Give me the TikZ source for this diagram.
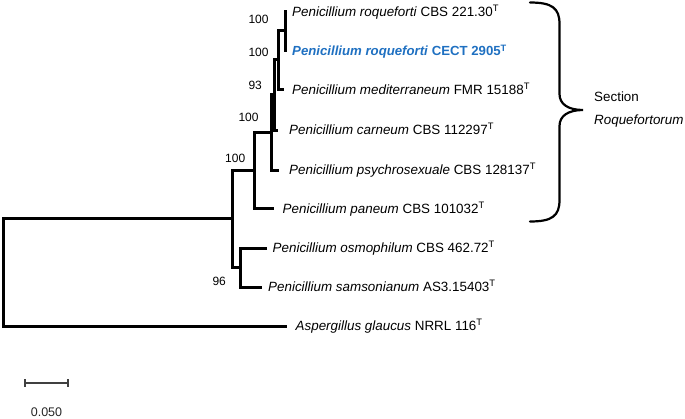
\documentclass[tikz,border=0pt]{standalone}
\usepackage{fontspec}
\setmainfont{Liberation Sans}
\definecolor{cectblue}{RGB}{31,112,193}
\begin{document}
\begin{tikzpicture}[x=1pt,y=-1pt,
  branch/.style={line width=3pt, line join=miter},
  taxon/.style={anchor=west, inner sep=0pt, text height=9.6pt, text depth=0pt, font=\fontsize{13.4}{16}\selectfont},
  boot/.style={anchor=west, inner sep=0pt, text height=8.6pt, text depth=0pt, font=\fontsize{12}{14}\selectfont},
  bracestyle/.style={line width=2.2pt, line cap=round},
  scalebar/.style={line width=1.2pt, draw=black!75},
  scalelabel/.style={inner sep=0pt, text height=9pt, text depth=0pt, text=black!85, font=\fontsize{12.5}{14}\selectfont}]
\useasboundingbox (0,0) rectangle (685,418);

% leaves (branch tips)
\coordinate (L1) at (287,11);
\coordinate (L2) at (287,50.5);
\coordinate (L3) at (283.5,89);
\coordinate (L4) at (278,130);
\coordinate (L5) at (278.5,170);
\coordinate (L6) at (273.5,208);
\coordinate (L7) at (267,248);
\coordinate (L8) at (262,287);
\coordinate (L9) at (287,326);
% internal nodes
\coordinate (A) at (285.5,30.75);
\coordinate (B) at (278,59.9);
\coordinate (C) at (274,94.9);
\coordinate (D) at (271,132.5);
\coordinate (E) at (254,170.2);
\coordinate (G) at (240.5,267.5);
\coordinate (F) at (232.5,218.9);
\coordinate (R) at (3,272.4);

% branches
\draw[branch] (L1) -| (A) |- (L2);
\draw[branch] (A) -| (B) |- (L3);
\draw[branch] (B) -| (C) |- (L4);
\draw[branch] (C) -| (D) |- (L5);
\draw[branch] (D) -| (E) |- (L6);
\draw[branch] (L7) -| (G) |- (L8);
\draw[branch] (E) -| (F) |- (G);
\draw[branch] (F) -| (R) |- (L9);

% taxa
\node[taxon] (t1) at (292,12) {\textit{Penicillium roqueforti} CBS 221.30\textsuperscript{T}};
\node[taxon, text=cectblue, font=\fontsize{13.2}{16}\selectfont\bfseries] (t2) at (292,51) {\textit{Penicillium roqueforti} CECT 2905\textsuperscript{T}};
\node[taxon] (t3) at (292,90) {\textit{Penicillium mediterraneum} FMR 15188\textsuperscript{T}};
\node[taxon] (t4) at (289,130) {\textit{Penicillium carneum} CBS 112297\textsuperscript{T}};
\node[taxon] (t5) at (289,170) {\textit{Penicillium psychrosexuale} CBS 128137\textsuperscript{T}};
\node[taxon] (t6) at (282.5,208.5) {\textit{Penicillium paneum} CBS 101032\textsuperscript{T}};
\node[taxon] (t7) at (272.5,247.5) {\textit{Penicillium osmophilum} CBS 462.72\textsuperscript{T}};
\node[taxon] (t8) at (268,287) {\textit{Penicillium samsonianum} AS3.15403\textsuperscript{T}};
\node[taxon] (t9) at (295.5,326) {\textit{Aspergillus glaucus} NRRL 116\textsuperscript{T}};

% bootstrap values
\node[boot] (b1) at (248.3,19.3) {100};
\node[boot] (b2) at (248.3,51.7) {100};
\node[boot] (b3) at (248.3,85) {93};
\node[boot] (b4) at (238.3,116.7) {100};
\node[boot] (b5) at (225,158) {100};
\node[boot] (b6) at (212.3,280.7) {96};

% brace and section label
\draw[bracestyle] (530,2.5) .. controls (552,2.5) and (559.5,8) .. (559.5,24)
  -- (559.5,94) .. controls (559.5,104) and (568,110) .. (583,110)
  .. controls (568,110) and (559.5,116) .. (559.5,126)
  -- (559.5,200) .. controls (559.5,216) and (552,221.5) .. (530,221.5);
\node[taxon] (s1) at (594,96.7) {Section};
\node[taxon] (s2) at (594,119.5) {\textit{Roquefortorum}};

% scale bar
\coordinate (sb1) at (25,383);
\coordinate (sb2) at (68,383);
\draw[scalebar] (sb1) -- (sb2);
\draw[scalebar] ([yshift=4pt]sb1) -- ([yshift=-4pt]sb1);
\draw[scalebar] ([yshift=4pt]sb2) -- ([yshift=-4pt]sb2);
\node[scalelabel] (sbl) at (46.5,411.7) {0.050};
\end{tikzpicture}
\end{document}
